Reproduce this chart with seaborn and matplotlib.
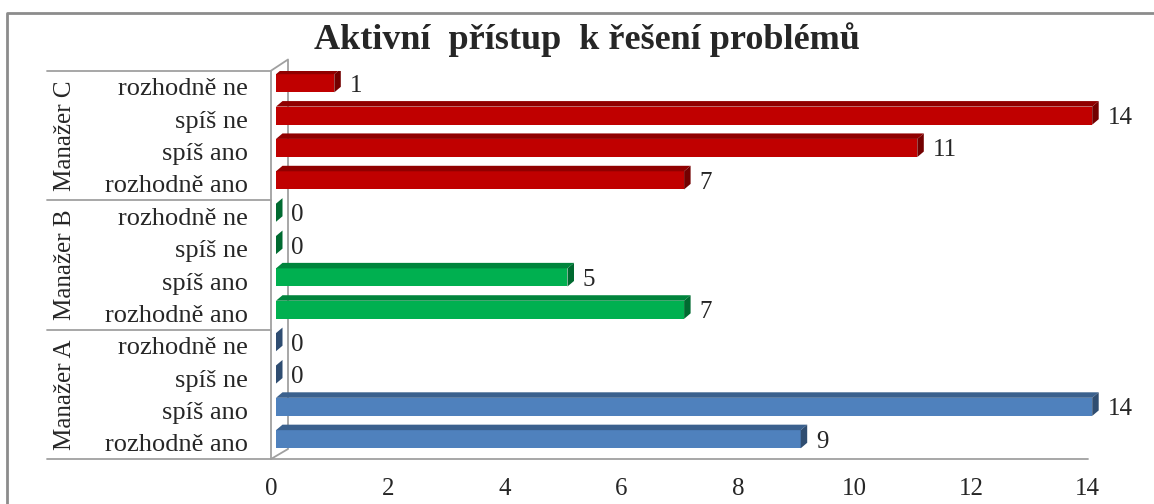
import matplotlib.pyplot as plt
import matplotlib.transforms as mtransforms
from matplotlib.patches import Polygon
import seaborn as sns
import pandas as pd
import numpy as np

# data (top to bottom as in the chart)
managers = ['Manažer C', 'Manažer B', 'Manažer A']
answers = ['rozhodně ne', 'spíš ne', 'spíš ano', 'rozhodně ano']
values_c = [1, 14, 11, 7]
values_b = [0, 0, 5, 7]
values_a = [0, 0, 14, 9]
x_ticks = [0, 2, 4, 6, 8, 10, 12, 14]
title = 'Aktivní  přístup  k řešení problémů'
colors = {'Manažer C': '#C00000', 'Manažer B': '#00B050', 'Manažer A': '#4F81BD'}

W, H = 1154, 504
sns.set_style('white')
plt.rcParams['font.family'] = ['Liberation Serif', 'DejaVu Serif']

rows = []
for m, vals in zip(managers, [values_c, values_b, values_a]):
    for a, v in zip(answers, vals):
        rows.append({'manager': m, 'answer': a, 'key': f'{m} / {a}', 'value': v})
df = pd.DataFrame(rows)

fig = plt.figure(figsize=(W / 100, H / 100), dpi=100)
# pixel coords measured from the top-left corner
pix = mtransforms.Affine2D().scale(1, -1).translate(0, H)

ax_left, ax_top, ax_bottom = 276, 70.7, 459
ppu = 58.3          # pixels per unit on x
xmax = 14.8
ax = fig.add_axes([ax_left / W, 1 - ax_bottom / H, xmax * ppu / W, (ax_bottom - ax_top) / H])

sns.barplot(data=df, x='value', y='key', hue='manager', order=list(df['key']),
            hue_order=managers, palette=colors, dodge=False, width=0.56,
            saturation=1, linewidth=0, legend=False, ax=ax)
ax.set_xlim(0, xmax)
ax.set_ylim(len(df) - 0.5, -0.5)

# fake 3D: top and side faces of every bar
row_px = (ax_bottom - ax_top) / len(df)
dx = 6.5 / ppu
dy = 5.5 / row_px
shift = 3.6 / row_px
for p in list(ax.patches):
    x0, w = p.get_x(), p.get_width()
    y0, h = p.get_y() - shift, p.get_height()
    p.set_y(y0)
    fc = np.array(p.get_facecolor()[:3])
    ax.add_patch(Polygon([(x0, y0), (x0 + dx, y0 - dy), (x0 + w + dx, y0 - dy), (x0 + w, y0)],
                         closed=True, fc=fc * 0.75, ec='none', zorder=1))
    ax.add_patch(Polygon([(x0 + w, y0), (x0 + w + dx, y0 - dy), (x0 + w + dx, y0 + h - dy), (x0 + w, y0 + h)],
                         closed=True, fc=fc * 0.6, ec='none', zorder=1))

# data labels
for i, v in enumerate(df['value']):
    ax.annotate(f'{v}', xy=(v, i - shift), xytext=(11, 0), textcoords='offset points',
                ha='left', va='center_baseline', fontsize=18)

# axes styling
for s in ax.spines.values():
    s.set_visible(False)
ax.set_xlabel('')
ax.set_ylabel('')
ax.set_yticks(range(len(df)))
ax.set_yticklabels(df['answer'])
ax.tick_params(axis='y', length=0, pad=20, labelsize=19)
ax.set_xticks(x_ticks)
ax.set_xticklabels([str(t) for t in x_ticks])
ax.tick_params(axis='x', length=0, pad=14, labelsize=18)
for lbl in ax.get_xticklabels():
    lbl.set_transform(lbl.get_transform() + mtransforms.ScaledTranslation(-4.5 / 100, 0, fig.dpi_scale_trans))

# group labels
grp = mtransforms.blended_transform_factory(pix, ax.transData)
for k, m in enumerate(managers):
    ax.text(65, 4 * k + 1.5, m, transform=grp, rotation=90, ha='center', va='center',
            fontsize=18, clip_on=False)

# table lines, 3D wall and floor
line_kw = dict(transform=pix, clip_on=False, color='#A0A0A0', lw=1.3, zorder=0.5)
for y in [ax_top, ax_top + 4 * row_px, ax_top + 8 * row_px, ax_bottom]:
    ax.plot([47, 271], [y, y], **line_kw)
ax.plot([271, 271], [ax_top, ax_bottom], **line_kw)
ax.plot([271, 288, 288, 271], [ax_top, 59.5, 449, ax_bottom], **line_kw)
ax.plot([271, 1088], [ax_bottom, ax_bottom], **line_kw)

# outer frame
ax.plot([7, 7, 1200], [520, 13, 13], transform=pix, clip_on=False, color='#8C8C8C', lw=2, zorder=0.5)

fig.text(587 / W, 1 - 40 / H, title, ha='center', va='center', fontsize=26, fontweight='bold')

fig.savefig('out.png', dpi=100)
